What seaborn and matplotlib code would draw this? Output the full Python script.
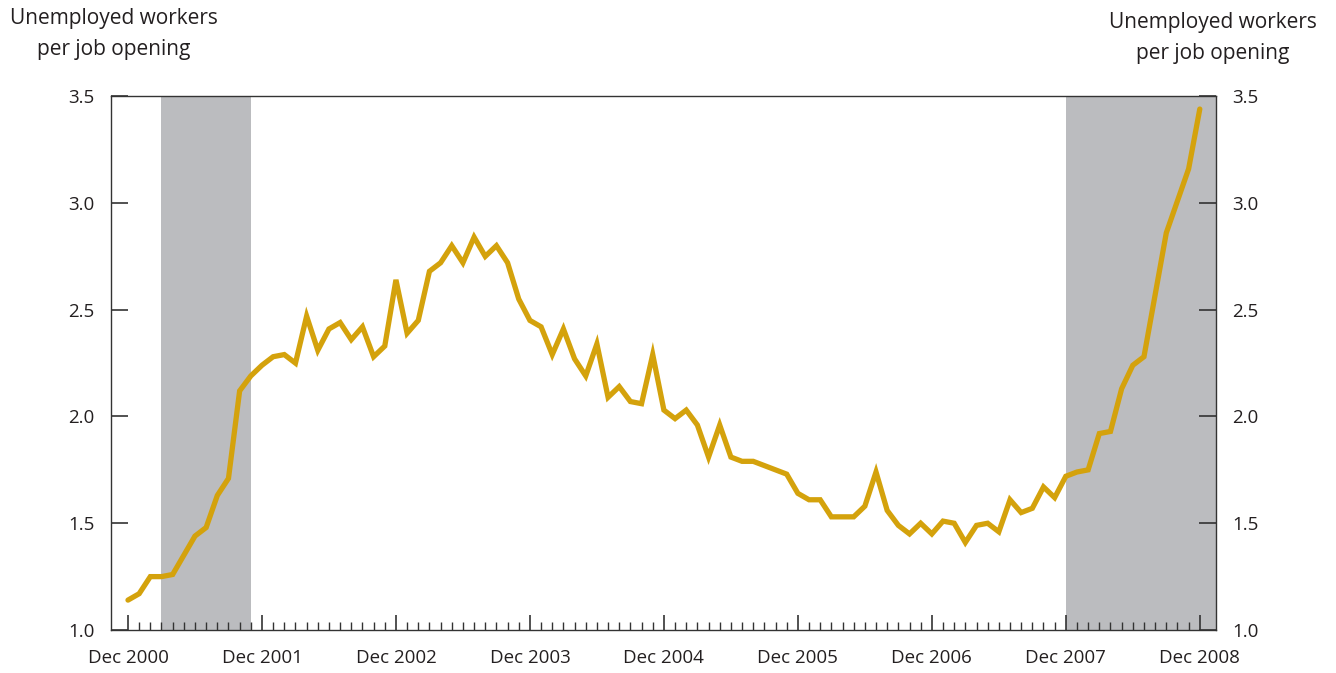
import matplotlib
matplotlib.use("Agg")
import matplotlib.pyplot as plt
from matplotlib.ticker import FixedLocator
import seaborn as sns
import pandas as pd

# Monthly data, Dec 2000 .. Dec 2008 (month index 0..96)
ratio = [
    1.14, 1.17, 1.25, 1.25, 1.26, 1.35, 1.44, 1.48, 1.63, 1.71,
    2.12, 2.19, 2.24, 2.28, 2.29, 2.25, 2.47, 2.31, 2.41, 2.44,
    2.36, 2.42, 2.28, 2.33, 2.64, 2.39, 2.45, 2.68, 2.72, 2.80,
    2.72, 2.84, 2.75, 2.80, 2.72, 2.55, 2.45, 2.42, 2.29, 2.41,
    2.27, 2.19, 2.34, 2.09, 2.14, 2.07, 2.06, 2.29, 2.03, 1.99,
    2.03, 1.96, 1.81, 1.96, 1.81, 1.79, 1.79, 1.77, 1.75, 1.73,
    1.64, 1.61, 1.61, 1.53, 1.53, 1.53, 1.58, 1.74, 1.56, 1.49,
    1.45, 1.50, 1.45, 1.51, 1.50, 1.41, 1.49, 1.50, 1.46, 1.61,
    1.55, 1.57, 1.67, 1.62, 1.72, 1.74, 1.75, 1.92, 1.93, 2.13,
    2.24, 2.28, 2.57, 2.86, 3.01, 3.16, 3.44,
]
month_index = list(range(len(ratio)))
tick_labels = ["Dec 2000", "Dec 2001", "Dec 2002", "Dec 2003", "Dec 2004",
               "Dec 2005", "Dec 2006", "Dec 2007", "Dec 2008"]
tick_months = [0, 12, 24, 36, 48, 60, 72, 84, 96]
recession_start = [3, 84]
recession_end = [11, None]  # None -> ongoing to end of chart
y_ticks = [1.0, 1.5, 2.0, 2.5, 3.0, 3.5]
axis_title = "Unemployed workers\nper job opening"

df = pd.DataFrame({"month": month_index, "ratio": ratio})

sns.set_style("white")
plt.rcParams["font.family"] = ["Open Sans", "DejaVu Sans"]

fig = plt.figure(figsize=(13.36, 6.73), dpi=100)
ax = fig.add_axes([0.0831, 0.0639, 0.910 - 0.0831, 0.857 - 0.0639])

ax.set_xlim(-1.52, 97.43)
ax.set_ylim(1.0, 3.5)

xmax = ax.get_xlim()[1]
for s, e in zip(recession_start, recession_end):
    ax.axvspan(s, xmax if e is None else e, color="#bbbcbf", lw=0, zorder=0)

sns.lineplot(data=df, x="month", y="ratio", ax=ax, color="#d4a20c",
             linewidth=3.8, solid_joinstyle="miter", zorder=3)

ax.set_xlabel("")
ax.set_ylabel("")

for sp in ax.spines.values():
    sp.set_visible(True)
    sp.set_color("#333333")
    sp.set_linewidth(1.0)

ax.xaxis.set_major_locator(FixedLocator(tick_months))
ax.xaxis.set_minor_locator(FixedLocator(month_index))
ax.set_xticklabels(tick_labels)
ax.set_yticks(y_ticks)
ax.set_yticklabels([f"{v:.1f}" for v in y_ticks])

ax.tick_params(axis="x", which="major", direction="in", length=11, width=1.2,
               color="#333333", labelsize=13.5, pad=14, bottom=True, top=False)
ax.tick_params(axis="x", which="minor", direction="in", length=6, width=1.0,
               color="#333333", bottom=True, top=False)
ax.tick_params(axis="y", which="major", direction="in", length=12, width=1.2,
               color="#333333", labelsize=13.5, pad=12,
               left=True, right=True, labelleft=True, labelright=True)

fig.text(0.085, 0.988, axis_title, ha="center", va="top", fontsize=15,
         linespacing=1.6, color="#231f20")
fig.text(0.908, 0.982, axis_title, ha="center", va="top", fontsize=15,
         linespacing=1.6, color="#231f20")

for lbl in ax.get_xticklabels() + ax.get_yticklabels():
    lbl.set_color("#231f20")

fig.savefig("out.png", dpi=100)
